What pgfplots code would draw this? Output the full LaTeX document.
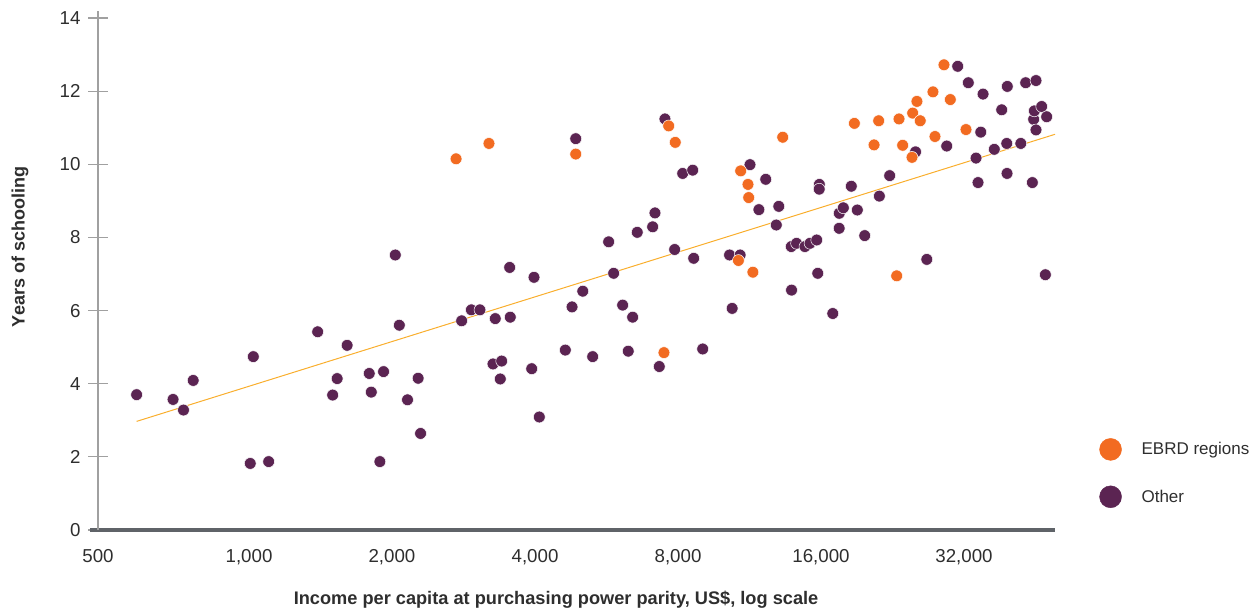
\documentclass[border=0pt]{standalone}
\usepackage{fontspec}
\setmainfont{Liberation Sans}
\usepackage{pgfplots}
\usepackage{pgfplotstable}
\pgfplotsset{compat=1.18}
\definecolor{ebrd}{HTML}{F26B21}
\definecolor{oth}{HTML}{5B2452}
\definecolor{trend}{HTML}{F9AE2D}
\definecolor{yax}{HTML}{A0A0A0}
\definecolor{xax}{HTML}{5F6368}
\definecolor{txt}{HTML}{2E2E2E}

\pgfplotstableread{
x y
580 3.70
692 3.57
728 3.28
763 4.09
1006 1.82
1021 4.74
1100 1.87
1395 5.42
1500 3.69
1533 4.14
1609 5.05
1791 4.28
1809 3.77
1886 1.87
1920 4.33
2032 7.52
2072 5.60
2156 3.56
2270 4.15
2297 2.64
2803 5.72
2938 6.02
3063 6.02
3263 4.54
3299 5.78
3380 4.13
3403 4.62
3538 7.18
3548 5.82
3937 4.41
3981 6.91
4084 3.09
4633 4.92
4786 6.10
4873 10.70
5042 6.53
5290 4.74
5716 7.88
5856 7.02
6117 6.15
6285 4.89
6421 5.82
6565 8.14
7075 8.29
7155 8.67
7305 4.47
7510 11.24
7873 7.67
8184 9.75
8590 9.84
8632 7.43
9017 4.95
10270 7.52
10400 6.06
10810 7.52
11340 9.99
11840 8.76
12240 9.59
12880 8.34
13040 8.85
13850 7.75
13870 6.56
14210 7.84
14800 7.75
15170 7.84
15670 7.93
15750 7.02
15870 9.45
15860 9.32
16940 5.92
17470 8.25
17480 8.66
17830 8.81
18530 9.40
19080 8.75
19780 8.05
21230 9.13
22320 9.69
25300 10.34
26720 7.40
29430 10.50
31040 12.68
32670 12.23
33920 10.17
34250 9.50
34710 10.88
35090 11.92
37060 10.41
38420 11.49
39370 10.57
39420 9.75
39470 12.13
42140 10.57
43150 12.23
44560 9.50
44850 11.23
45000 11.46
45360 12.29
45360 10.94
46630 11.58
47470 6.98
47770 11.30
}\othertable

\pgfplotstableread{
x y
2728 10.15
3200 10.57
4873 10.28
7474 4.85
7647 11.05
7895 10.60
10720 7.37
10840 9.82
11230 9.45
11270 9.09
11500 7.05
13290 10.74
18810 11.12
20690 10.53
21160 11.19
23090 6.95
23350 11.24
23770 10.52
24870 10.19
24950 11.40
25470 11.72
25880 11.19
27530 11.98
27800 10.76
29040 12.72
29940 11.77
32310 10.95
}\ebrdtable

\begin{document}
\begin{tikzpicture}
\useasboundingbox (0pt,0pt) rectangle (1254pt,-610pt);
\begin{axis}[
  at={(98pt,-530pt)}, anchor=south west,
  scale only axis, width=957pt, height=519.3pt,
  xmode=log, xmin=481, xmax=49740, ymin=0, ymax=14.2,
  clip=false,
  axis x line*=bottom, axis y line*=left,
  x axis line style={draw=xax, line width=3.5pt, -, shorten <=-8pt},
  y axis line style={draw=yax, line width=1.2pt, -},
  xtick={481,1000,2000,4000,8000,16000,32000},
  xticklabels={500,{1,000},{2,000},{4,000},{8,000},{16,000},{32,000}},
  ytick={0,2,4,6,8,10,12,14},
  xtick style={draw=none},
  ytick style={draw=yax, line width=1.2pt},
  tick align=center, major tick length=20pt,
  /pgf/number format/assume math mode=true,
  tick label style={font=\fontsize{18.7}{22}\selectfont, text=txt},
  xticklabel style={yshift=-6pt},
  yticklabel style={xshift=-4pt},
  xlabel={Income per capita at purchasing power parity, US\$, log scale},
  ylabel={Years of schooling},
  every axis x label/.style={at={(axis description cs:0.4786,-0.1348)}, anchor=center, font=\fontsize{18.2}{22}\selectfont\bfseries, text=txt},
  every axis y label/.style={at={(axis description cs:-0.0815,0.545)}, rotate=90, anchor=center, font=\fontsize{18}{22}\selectfont\bfseries, text=txt},
  legend style={at={(axis description cs:1.043,0.181)}, anchor=north west, draw=none, fill=none,
     font=\fontsize{17}{20}\selectfont, text=txt, row sep=25pt, cells={anchor=west}},
  reverse legend,
]
\addplot[trend, line width=1pt, forget plot] coordinates {(580,2.97) (49740,10.82)};
\addplot[only marks, mark=*, mark size=5.9pt, mark options={fill=oth, draw=white, line width=0.5pt},
  legend image code/.code={\fill[oth] (0pt,0pt) circle (11pt); \path[draw=none, fill=none] (0pt,0pt) -- (29pt,0pt);}]
  table[x=x, y=y] {\othertable};
\addlegendentry{Other}
\addplot[only marks, mark=*, mark size=5.9pt, mark options={fill=ebrd, draw=white, line width=0.5pt},
  legend image code/.code={\fill[ebrd] (0pt,0pt) circle (11pt); \path[draw=none, fill=none] (0pt,0pt) -- (29pt,0pt);}]
  table[x=x, y=y] {\ebrdtable};
\addlegendentry{EBRD regions}
\end{axis}
\end{tikzpicture}
\end{document}
